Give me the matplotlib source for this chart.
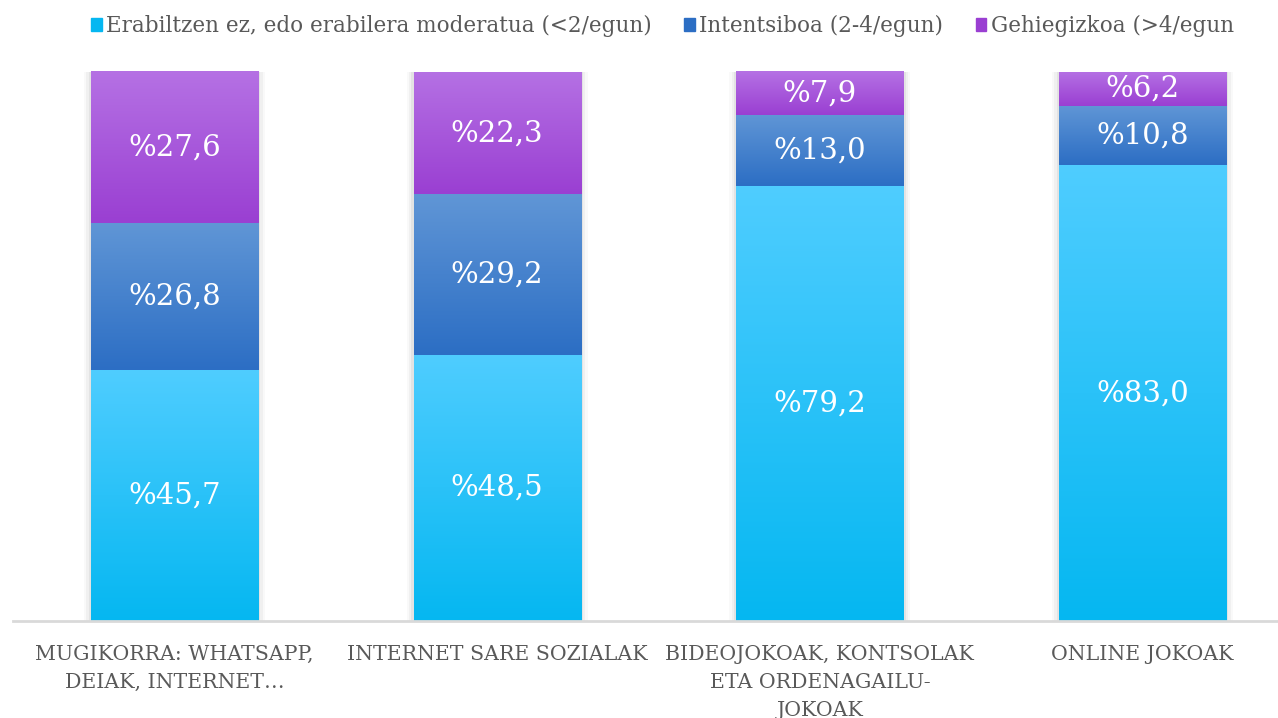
import numpy as np
import matplotlib.pyplot as plt
from matplotlib.colors import LinearSegmentedColormap
from matplotlib.patches import Rectangle

categories = ["MUGIKORRA: WHATSAPP,\nDEIAK, INTERNET…",
              "INTERNET SARE SOZIALAK",
              "BIDEOJOKOAK, KONTSOLAK\nETA ORDENAGAILU-\nJOKOAK",
              "ONLINE JOKOAK"]
series_names = ["Erabiltzen ez, edo erabilera moderatua (<2/egun)",
                "Intentsiboa (2-4/egun)",
                "Gehiegizkoa (>4/egun"]
moderate = [45.7, 48.5, 79.2, 83.0]
intensive = [26.8, 29.2, 13.0, 10.8]
excessive = [27.6, 22.3, 7.9, 6.2]
series = [moderate, intensive, excessive]

# gradient colours (top, bottom) per series
grad = [("#4fcdff", "#05b7f1"),
        ("#6096d6", "#2c6ec4"),
        ("#b571e4", "#9a3fd2")]

plt.rcParams['font.family'] = ['DejaVu Serif']

fig = plt.figure(figsize=(12.78, 7.18), dpi=100)
ax = fig.add_axes([13.25 / 1278, 1 - 621 / 718, 1290.5 / 1278, 549 / 718])

x = np.arange(len(categories))
width = 0.518
bottom = np.zeros(len(categories))
grad_img = np.linspace(0, 1, 256).reshape(-1, 1)

# soft shadow behind the bars
for xi in x:
    for k, a in [(0.022, 0.025), (0.014, 0.035), (0.007, 0.05)]:
        ax.add_patch(Rectangle((xi - width / 2 - k, 0), width + 2 * k, 100,
                               color="black", alpha=a, lw=0, zorder=1))

for vals, (ctop, cbot), name in zip(series, grad, series_names):
    bars = ax.bar(x, vals, width, bottom=bottom, color=cbot, label=name,
                  zorder=2, linewidth=0)
    cmap = LinearSegmentedColormap.from_list("g", [ctop, cbot])
    for b in bars:
        x0, y0 = b.get_x(), b.get_y()
        im = ax.imshow(grad_img, cmap=cmap, aspect="auto", zorder=3,
                       extent=(x0, x0 + b.get_width(), y0, y0 + b.get_height()),
                       origin="upper")
        im.set_clip_path(b)
    for xi, v, bt in zip(x, vals, bottom):
        ax.text(xi, bt + v / 2, "%" + f"{v:.1f}".replace(".", ","),
                ha="center", va="center", color="white", fontsize=21, zorder=5)
    bottom = bottom + np.array(vals)

ax.set_xlim(-0.5, 3.5)
ax.set_ylim(0, 100)
ax.set_xticks(x)
ax.set_xticklabels(categories, fontsize=14.8, color="#595959", linespacing=1.6)
ax.tick_params(axis="x", length=0, pad=17)
ax.set_yticks([])
for s in ["top", "right", "left"]:
    ax.spines[s].set_visible(False)
ax.spines["bottom"].set_color("#d9d9d9")
ax.spines["bottom"].set_linewidth(2)
ax.spines["bottom"].set_zorder(6)

handles = [Rectangle((0, 0), 1, 1, color=c[1]) for c in grad]
fig.legend(handles, series_names, loc="upper left", bbox_to_anchor=(76 / 1278, 1.0),
           ncol=3, frameon=False, fontsize=15.5, labelcolor="#595959",
           handlelength=0.5, handleheight=0.5, handletextpad=0.2,
           columnspacing=1.5, borderaxespad=0.3)

fig.savefig("out.png", dpi=100)
